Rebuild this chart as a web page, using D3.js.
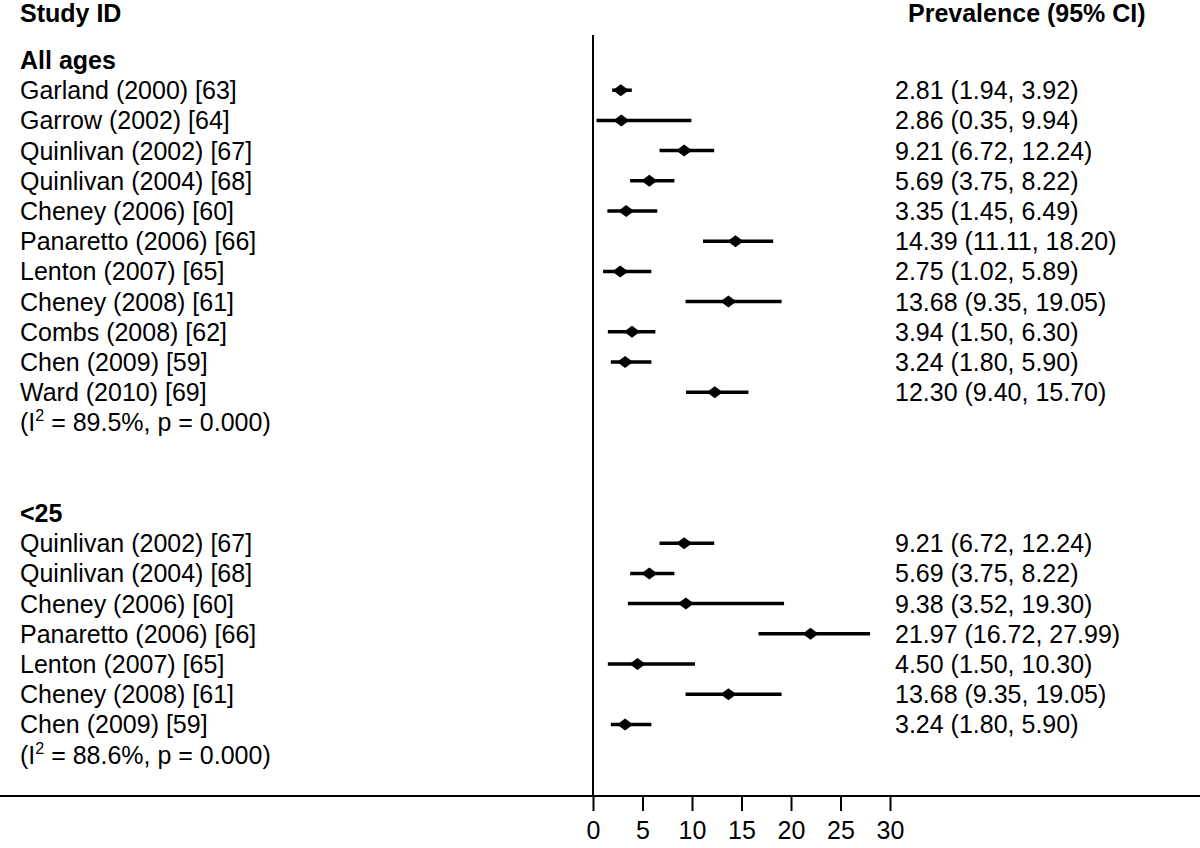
<!DOCTYPE html>
<html><head><meta charset="utf-8">
<script src="https://cdn.jsdelivr.net/npm/d3@7"></script>
<style>body{margin:0;background:#fff}text{font-family:"Liberation Sans",Arial,sans-serif;font-size:25px;fill:#000}</style>
</head><body><svg id="c" width="1200" height="848"></svg>
<script>
const groups = ["All ages", "<25"];
const studies1 = ["Garland (2000) [63]","Garrow (2002) [64]","Quinlivan (2002) [67]","Quinlivan (2004) [68]","Cheney (2006) [60]","Panaretto (2006) [66]","Lenton (2007) [65]","Cheney (2008) [61]","Combs (2008) [62]","Chen (2009) [59]","Ward (2010) [69]"];
const est1 = [2.81,2.86,9.21,5.69,3.35,14.39,2.75,13.68,3.94,3.24,12.30];
const lo1 = [1.94,0.35,6.72,3.75,1.45,11.11,1.02,9.35,1.50,1.80,9.40];
const hi1 = [3.92,9.94,12.24,8.22,6.49,18.20,5.89,19.05,6.30,5.90,15.70];
const studies2 = ["Quinlivan (2002) [67]","Quinlivan (2004) [68]","Cheney (2006) [60]","Panaretto (2006) [66]","Lenton (2007) [65]","Cheney (2008) [61]","Chen (2009) [59]"];
const est2 = [9.21,5.69,9.38,21.97,4.50,13.68,3.24];
const lo2 = [6.72,3.75,3.52,16.72,1.50,9.35,1.80];
const hi2 = [12.24,8.22,19.30,27.99,10.30,19.05,5.90];
const het = ["89.5%","88.6%"];
const ticks = [0,5,10,15,20,25,30];

const svg = d3.select("#c");
const x = d3.scaleLinear().domain([0,30]).range([593,890]);
const y = d3.scaleLinear().domain([0,1]).range([60,90.2]);
const fmt = d3.format(".2f");

const rows = [];
let r = 0;
rows.push({type:"head", label:groups[0], i:r++});
studies1.forEach((s,k)=>rows.push({type:"study",label:s,e:est1[k],l:lo1[k],h:hi1[k],i:r++}));
rows.push({type:"het",h:het[0],i:r++});
r += 2;
rows.push({type:"head", label:groups[1], i:r++});
studies2.forEach((s,k)=>rows.push({type:"study",label:s,e:est2[k],l:lo2[k],h:hi2[k],i:r++}));
rows.push({type:"het",h:het[1],i:r++});

svg.append("text").attr("x",20).attr("y",22).attr("font-weight","bold").text("Study ID");
svg.append("text").attr("x",908).attr("y",22).attr("font-weight","bold").text("Prevalence (95% CI)");

rows.forEach(d=>{
  const cy = y(d.i);
  if(d.type==="head"){
    svg.append("text").attr("x",20).attr("y",cy+9).attr("font-weight","bold").text(d.label);
  } else if(d.type==="het"){
    const t = svg.append("text").attr("x",20).attr("y",cy+9);
    t.append("tspan").text("(I");
    t.append("tspan").attr("dy",-10).style("font-size","16px").text("2");
    t.append("tspan").attr("dy",10).text(" = "+d.h+", p = 0.000)");
  } else {
    svg.append("text").attr("x",20).attr("y",cy+9).text(d.label);
    svg.append("line").attr("x1",x(d.l)).attr("x2",x(d.h)).attr("y1",cy).attr("y2",cy).attr("stroke","#000").attr("stroke-width",3.5);
    const px = x(d.e);
    svg.append("path").attr("d",`M${px-8},${cy}L${px},${cy-6}L${px+8},${cy}L${px},${cy+6}Z`).attr("fill","#000");
    svg.append("text").attr("x",895).attr("y",cy+9).text(`${fmt(d.e)} (${fmt(d.l)}, ${fmt(d.h)})`);
  }
});

svg.append("line").attr("x1",x(0)).attr("x2",x(0)).attr("y1",35).attr("y2",797).attr("stroke","#000").attr("stroke-width",2);
svg.append("line").attr("x1",0).attr("x2",1200).attr("y1",796).attr("y2",796).attr("stroke","#000").attr("stroke-width",2);
const ax = svg.append("g").attr("transform","translate(0,796)").call(d3.axisBottom(x).tickValues(ticks).tickSize(15).tickPadding(10));
ax.select(".domain").remove();
ax.selectAll("line").attr("stroke","#000").attr("stroke-width",2);
ax.selectAll("text").style("font-size","25px").style("font-family","Liberation Sans, Arial, sans-serif");
</script></body></html>
